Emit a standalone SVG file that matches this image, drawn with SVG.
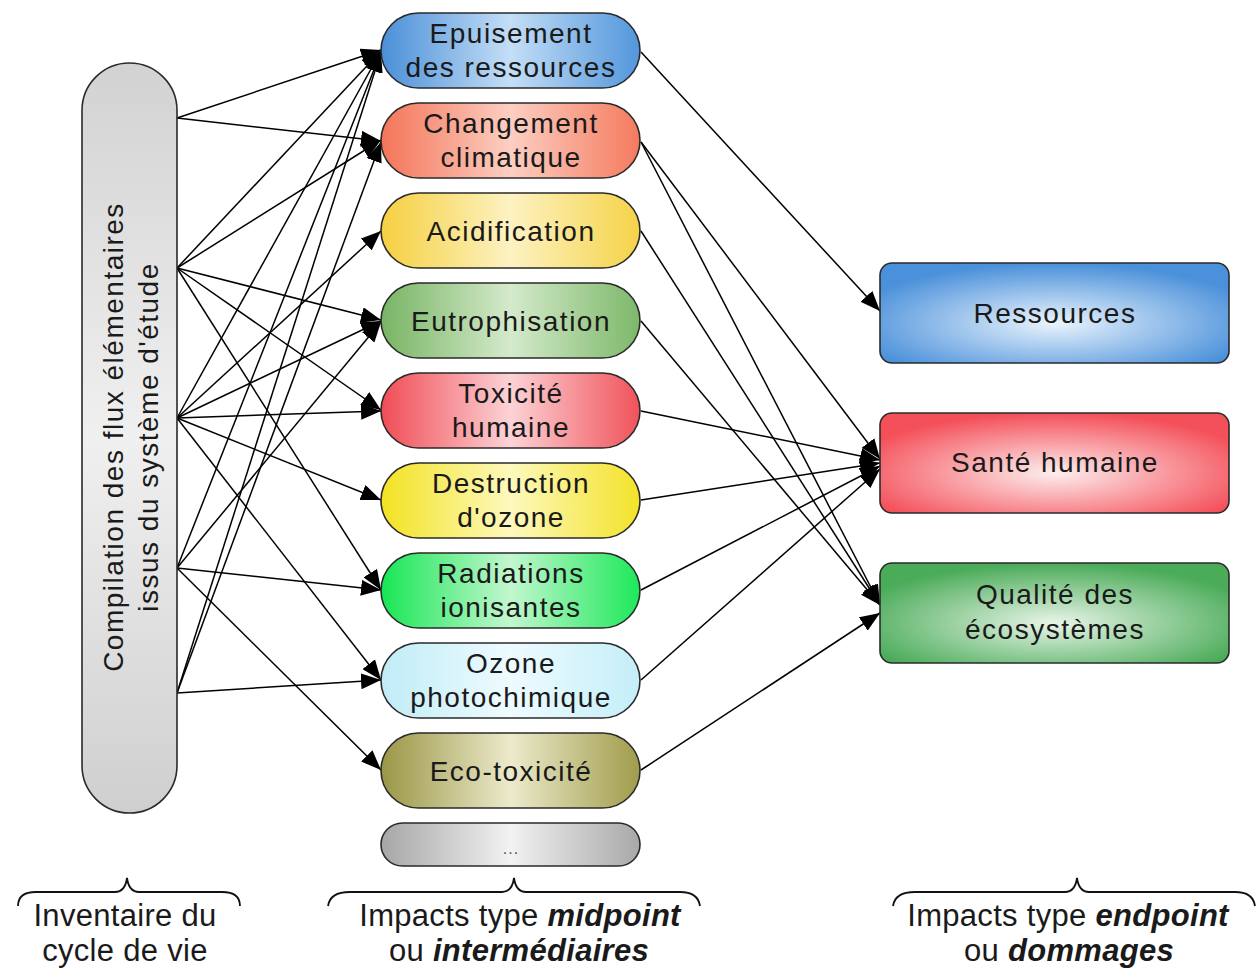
<svg xmlns="http://www.w3.org/2000/svg" width="1259" height="968" viewBox="0 0 1259 968">
<defs>
<style>
.t{font-family:"Liberation Sans",Arial,sans-serif;font-size:28px;fill:#1a1a1a;text-anchor:middle;letter-spacing:1.5px}
.b{font-family:"Liberation Sans",Arial,sans-serif;font-size:31px;fill:#1a1a1a;text-anchor:middle;letter-spacing:0.3px}
.bi{font-weight:bold;font-style:italic}
.mid{stroke:#2a2a2a;stroke-width:1.6}
.end{stroke:#2a2a2a;stroke-width:1.6}
.c line{stroke:#000;stroke-width:1.5;marker-end:url(#ah)}
.br{fill:none;stroke:#111;stroke-width:1.8}
</style>
<marker id="ah" markerWidth="20" markerHeight="16" refX="20" refY="8" orient="auto" markerUnits="userSpaceOnUse"><path d="M0,0 L20,8 L0,16 z" fill="#000"/></marker>
<linearGradient id="gL" x1="0" y1="0" x2="0" y2="1"><stop offset="0" stop-color="#d2d2d2"/><stop offset="0.5" stop-color="#f0f0f0"/><stop offset="1" stop-color="#cfcfcf"/></linearGradient>
<linearGradient id="g1" x1="0" y1="0" x2="1" y2="0"><stop offset="0" stop-color="#4a8fd8"/><stop offset="0.5" stop-color="#c4def6"/><stop offset="1" stop-color="#5296dc"/></linearGradient>
<linearGradient id="g2" x1="0" y1="0" x2="1" y2="0"><stop offset="0" stop-color="#f47458"/><stop offset="0.5" stop-color="#fccfc2"/><stop offset="1" stop-color="#f47a5e"/></linearGradient>
<linearGradient id="g3" x1="0" y1="0" x2="1" y2="0"><stop offset="0" stop-color="#f5d040"/><stop offset="0.5" stop-color="#fdf2c2"/><stop offset="1" stop-color="#f5d348"/></linearGradient>
<linearGradient id="g4" x1="0" y1="0" x2="1" y2="0"><stop offset="0" stop-color="#78b464"/><stop offset="0.5" stop-color="#d4eacb"/><stop offset="1" stop-color="#7db86a"/></linearGradient>
<linearGradient id="g5" x1="0" y1="0" x2="1" y2="0"><stop offset="0" stop-color="#f04c55"/><stop offset="0.5" stop-color="#fcd3d6"/><stop offset="1" stop-color="#f0525a"/></linearGradient>
<linearGradient id="g6" x1="0" y1="0" x2="1" y2="0"><stop offset="0" stop-color="#f3e222"/><stop offset="0.5" stop-color="#fdf9bd"/><stop offset="1" stop-color="#f3e22a"/></linearGradient>
<linearGradient id="g7" x1="0" y1="0" x2="1" y2="0"><stop offset="0" stop-color="#17e654"/><stop offset="0.5" stop-color="#c2f7cf"/><stop offset="1" stop-color="#1ee85a"/></linearGradient>
<linearGradient id="g8" x1="0" y1="0" x2="1" y2="0"><stop offset="0" stop-color="#c0ecf7"/><stop offset="0.5" stop-color="#eefbff"/><stop offset="1" stop-color="#c4eef8"/></linearGradient>
<linearGradient id="g9" x1="0" y1="0" x2="1" y2="0"><stop offset="0" stop-color="#9a9646"/><stop offset="0.5" stop-color="#eceacb"/><stop offset="1" stop-color="#a09c4c"/></linearGradient>
<linearGradient id="g10" x1="0" y1="0" x2="1" y2="0"><stop offset="0" stop-color="#a6a6a6"/><stop offset="0.5" stop-color="#f2f2f2"/><stop offset="1" stop-color="#a8a8a8"/></linearGradient>
<radialGradient id="e1" cx="0.5" cy="0.6" r="0.6"><stop offset="0" stop-color="#eaf4fd"/><stop offset="1" stop-color="#4a90da"/></radialGradient>
<radialGradient id="e2" cx="0.5" cy="0.6" r="0.6"><stop offset="0" stop-color="#fdeeee"/><stop offset="1" stop-color="#f4505a"/></radialGradient>
<radialGradient id="e3" cx="0.5" cy="0.6" r="0.6"><stop offset="0" stop-color="#e8f5e8"/><stop offset="1" stop-color="#4aab58"/></radialGradient>
</defs>
<rect width="1259" height="968" fill="#fff"/>

<g id="connectors" class="c">
<line x1="177" y1="118" x2="381" y2="50"/>
<line x1="177" y1="118" x2="381" y2="141"/>
<line x1="177" y1="268" x2="381" y2="51"/>
<line x1="177" y1="268" x2="381" y2="140"/>
<line x1="177" y1="268" x2="381" y2="320"/>
<line x1="177" y1="268" x2="381" y2="410"/>
<line x1="177" y1="268" x2="381" y2="590"/>
<line x1="177" y1="418" x2="381" y2="51"/>
<line x1="177" y1="418" x2="381" y2="231"/>
<line x1="177" y1="418" x2="381" y2="321"/>
<line x1="177" y1="418" x2="381" y2="411"/>
<line x1="177" y1="418" x2="381" y2="500"/>
<line x1="177" y1="418" x2="381" y2="680"/>
<line x1="177" y1="568" x2="381" y2="52"/>
<line x1="177" y1="568" x2="381" y2="322"/>
<line x1="177" y1="568" x2="381" y2="590"/>
<line x1="177" y1="568" x2="381" y2="770"/>
<line x1="177" y1="693" x2="381" y2="52"/>
<line x1="177" y1="693" x2="381" y2="142"/>
<line x1="177" y1="693" x2="381" y2="680"/>
<line x1="641" y1="52" x2="880" y2="311"/>
<line x1="641" y1="142" x2="880" y2="459"/>
<line x1="641" y1="142" x2="880" y2="605"/>
<line x1="641" y1="231" x2="880" y2="605"/>
<line x1="641" y1="321" x2="880" y2="605"/>
<line x1="641" y1="411" x2="880" y2="460"/>
<line x1="641" y1="500" x2="880" y2="463"/>
<line x1="641" y1="590" x2="880" y2="466"/>
<line x1="641" y1="680" x2="880" y2="469"/>
<line x1="641" y1="770" x2="880" y2="613"/>
</g>

<g id="inventaire">
<rect x="82" y="63" width="95" height="750" rx="47.5" fill="url(#gL)" stroke="#2a2a2a" stroke-width="1.6"/>
<text class="t" transform="translate(123,437) rotate(-90)">Compilation des flux élémentaires</text>
<text class="t" transform="translate(158,437) rotate(-90)">issus du système d'étude</text>
</g>

<g id="m1"><rect class="mid" x="381" y="13" width="259" height="75" rx="37.5" fill="url(#g1)"/><text class="t" x="511" y="43">Epuisement</text><text class="t" x="511" y="77">des ressources</text></g>
<g id="m2"><rect class="mid" x="381" y="103" width="259" height="75" rx="37.5" fill="url(#g2)"/><text class="t" x="511" y="133">Changement</text><text class="t" x="511" y="167">climatique</text></g>
<g id="m3"><rect class="mid" x="381" y="193" width="259" height="75" rx="37.5" fill="url(#g3)"/><text class="t" x="511" y="241">Acidification</text></g>
<g id="m4"><rect class="mid" x="381" y="283" width="259" height="75" rx="37.5" fill="url(#g4)"/><text class="t" x="511" y="331">Eutrophisation</text></g>
<g id="m5"><rect class="mid" x="381" y="373" width="259" height="75" rx="37.5" fill="url(#g5)"/><text class="t" x="511" y="403">Toxicité</text><text class="t" x="511" y="437">humaine</text></g>
<g id="m6"><rect class="mid" x="381" y="463" width="259" height="75" rx="37.5" fill="url(#g6)"/><text class="t" x="511" y="493">Destruction</text><text class="t" x="511" y="527">d'ozone</text></g>
<g id="m7"><rect class="mid" x="381" y="553" width="259" height="75" rx="37.5" fill="url(#g7)"/><text class="t" x="511" y="583">Radiations</text><text class="t" x="511" y="617">ionisantes</text></g>
<g id="m8"><rect class="mid" x="381" y="643" width="259" height="75" rx="37.5" fill="url(#g8)"/><text class="t" x="511" y="673">Ozone</text><text class="t" x="511" y="707">photochimique</text></g>
<g id="m9"><rect class="mid" x="381" y="733" width="259" height="75" rx="37.5" fill="url(#g9)"/><text class="t" x="511" y="781">Eco-toxicité</text></g>
<g id="m10"><rect class="mid" x="381" y="823" width="259" height="43" rx="21.5" fill="url(#g10)"/><text class="t" x="511" y="854" style="font-size:16px;letter-spacing:1px;fill:#555">...</text></g>

<g id="e-ressources"><rect class="end" x="880" y="263" width="349" height="100" rx="12" fill="url(#e1)"/><text class="t" x="1055" y="323">Ressources</text></g>
<g id="e-sante"><rect class="end" x="880" y="413" width="349" height="100" rx="12" fill="url(#e2)"/><text class="t" x="1055" y="472">Santé humaine</text></g>
<g id="e-qualite"><rect class="end" x="880" y="563" width="349" height="100" rx="12" fill="url(#e3)"/><text class="t" x="1055" y="604">Qualité des</text><text class="t" x="1055" y="639">écosystèmes</text></g>

<g id="labels">
<path class="br" d="M18,906 Q18,892 36,892 L115,892 Q125,892 127,878 Q129,892 139,892 L222,892 Q240,892 240,906"/>
<path class="br" d="M328,906 Q330,892 350,892 L502,892 Q512,892 514,878 Q516,892 526,892 L680,892 Q698,892 700,906"/>
<path class="br" d="M893,906 Q895,892 915,892 L1065,892 Q1075,892 1077,878 Q1079,892 1089,892 L1235,892 Q1253,892 1255,906"/>
<text class="b" x="125" y="926">Inventaire du</text>
<text class="b" x="125" y="961">cycle de vie</text>
<text class="b" x="520" y="926">Impacts type <tspan class="bi">midpoint</tspan></text>
<text class="b" x="519" y="961">ou <tspan class="bi">intermédiaires</tspan></text>
<text class="b" x="1068" y="926">Impacts type <tspan class="bi">endpoint</tspan></text>
<text class="b" x="1069" y="961">ou <tspan class="bi">dommages</tspan></text>
</g>
</svg>
